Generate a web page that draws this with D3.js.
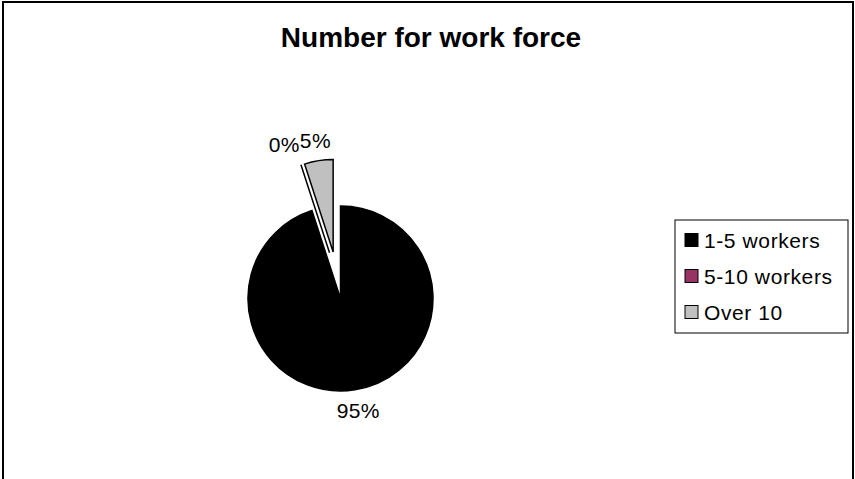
<!DOCTYPE html>
<html>
<head>
<meta charset="utf-8">
<script src="https://cdn.jsdelivr.net/npm/d3@7"></script>
<style>
  html, body { margin: 0; padding: 0; background: #fff; }
  svg { display: block; }
  text { font-family: "Liberation Sans", Arial, sans-serif; fill: #000; }
</style>
</head>
<body>
<script>
const title = "Number for work force";
const categories = ["1-5 workers", "5-10 workers", "Over 10"];
const values = [95, 0, 5];
const colors = ["#000000", "#993366", "#c0c0c0"];
const exploded = [false, true, true];

const W = 855, H = 479;
const cx = 340.5, cy = 298.5, R = 92.5;
const explodeDist = 47;

const svg = d3.select("body").append("svg").attr("width", W).attr("height", H);

// outer frame
svg.append("rect").attr("x", 3).attr("y", 2).attr("width", 850).attr("height", 520)
  .attr("fill", "#fff").attr("stroke", "#000").attr("stroke-width", 2);

svg.append("text").attr("x", 431).attr("y", 47).attr("text-anchor", "middle")
  .attr("font-size", 28).attr("font-weight", "bold").text(title);

const total = d3.sum(values);
const pie = d3.pie().sort(null).value(d => d).startAngle(0).endAngle(2 * Math.PI);
const arcs = pie(values);
const arc = d3.arc().innerRadius(0).outerRadius(R);

function dir(a) { return [Math.sin(a), -Math.cos(a)]; }

// explosion offset per slice
const offsets = arcs.map((a, i) => {
  if (!exploded[i]) return [0, 0];
  let ang = (a.startAngle + a.endAngle) / 2;
  if (a.endAngle - a.startAngle === 0) {
    const nxt = arcs[(i + 1) % arcs.length];
    ang = (ang + (nxt.startAngle + nxt.endAngle) / 2) / 2;
  }
  const d = dir(ang);
  return [d[0] * explodeDist, d[1] * explodeDist];
});

const g = svg.append("g").attr("transform", `translate(${cx},${cy})`);

g.selectAll("path.slice").data(arcs).join("path")
  .attr("class", "slice")
  .attr("transform", (d, i) => `translate(${offsets[i][0]},${offsets[i][1]})`)
  .attr("d", arc)
  .attr("fill", (d, i) => colors[i])
  .attr("stroke", "#000")
  .attr("stroke-width", 1.5)
  .attr("stroke-linejoin", "miter");

// percentage labels
const fmt = v => Math.round(v / total * 100) + "%";
const labelR = R + 21;
const labels = arcs.map((a, i) => {
  const ang = (a.startAngle + a.endAngle) / 2;
  const d = dir(ang);
  return { i, x: offsets[i][0] + d[0] * labelR, y: offsets[i][1] + d[1] * labelR, text: fmt(values[i]) };
});

const lg = svg.append("g").attr("transform", `translate(${cx},${cy})`);
const texts = lg.selectAll("text").data(labels).join("text")
  .attr("x", d => d.x).attr("y", d => d.y)
  .attr("dy", "0.36em")
  .attr("text-anchor", "middle")
  .attr("font-size", 21)
  .attr("letter-spacing", 0.4)
  .text(d => d.text);

// simple collision avoidance: push overlapping label to the left of its neighbour
const nodes = texts.nodes();
const boxes = nodes.map(n => n.getBBox());
for (let i = 0; i < nodes.length; i++) {
  for (let j = 0; j < nodes.length; j++) {
    if (i === j) continue;
    const a = boxes[i], b = boxes[j];
    const overlap = a.x < b.x + b.width && a.x + a.width > b.x && a.y < b.y + b.height && a.y + a.height > b.y;
    if (overlap && labels[i].x < labels[j].x) {
      d3.select(nodes[i]).attr("text-anchor", "end").attr("x", b.x);
      boxes[i] = nodes[i].getBBox();
    }
  }
}

// legend
const legend = svg.append("g");
legend.append("rect").attr("x", 675).attr("y", 220).attr("width", 173).attr("height", 113)
  .attr("fill", "#fff").attr("stroke", "#000").attr("stroke-width", 1);
const items = legend.selectAll("g.item").data(categories).join("g")
  .attr("class", "item")
  .attr("transform", (d, i) => `translate(0,${240 + i * 36})`);
items.append("rect").attr("x", 685).attr("y", -6.5).attr("width", 13).attr("height", 13)
  .attr("fill", (d, i) => colors[i]).attr("stroke", "#000").attr("stroke-width", 1);
items.append("text").attr("x", 704).attr("y", 0).attr("dy", "0.36em")
  .attr("font-size", 21).attr("letter-spacing", 0.6).text(d => d);
</script>
</body>
</html>
